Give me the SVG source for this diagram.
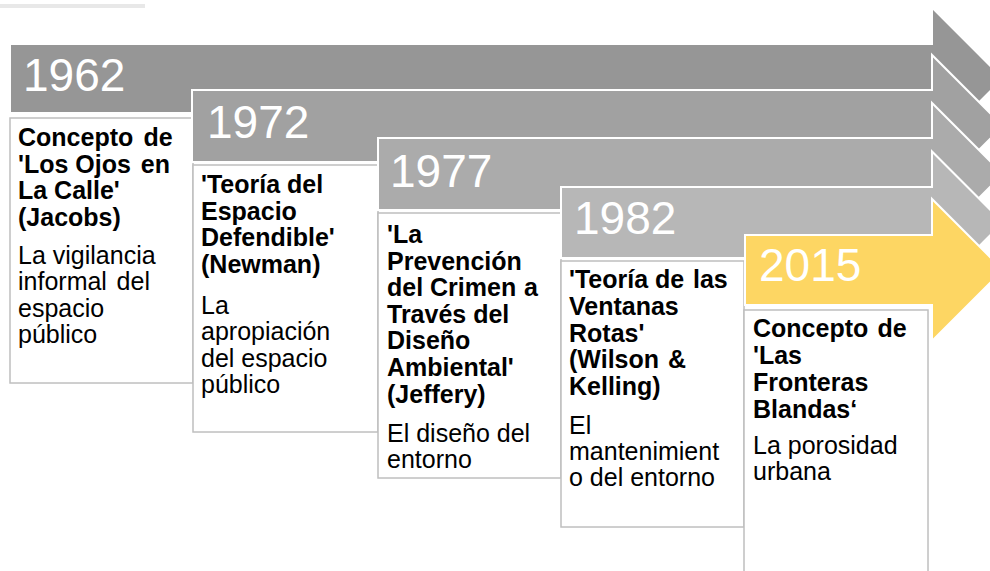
<svg xmlns="http://www.w3.org/2000/svg" width="990" height="571" viewBox="0 0 990 571">
<style>
.arrow{stroke:#ffffff;stroke-width:2;stroke-linejoin:miter}
.year{font-family:"Liberation Sans",Arial,sans-serif;font-size:46px;fill:#ffffff}
.box{fill:#ffffff;stroke:#bfbfbf;stroke-width:1.5}
.t{font-family:"Liberation Sans",Arial,sans-serif;font-size:25px;fill:#000000;font-weight:bold}
.d{font-family:"Liberation Sans",Arial,sans-serif;font-size:25px;fill:#000000}
</style>
<rect x="0" y="0" width="990" height="571" fill="#ffffff"/>
<rect x="0" y="4" width="145" height="4" fill="#e8e8e8"/>
<g id="connectors"/>
<g id="n1962">
<polygon class="arrow" fill="#969696" points="10,44 932,44 932,7.5 1003,78.5 932,149.5 932,113 10,113"/>
<text class="year" x="23" y="91">1962</text>
<rect class="box" x="10" y="118" width="183" height="265"/>
<text class="t" x="18" y="146">Concepto <tspan x="143.5">de</tspan></text>
<text class="t" x="18" y="172.7">'Los Ojos <tspan x="140.8">en</tspan></text>
<text class="t" x="18" y="199.4">La Calle'</text>
<text class="t" x="18" y="226">(Jacobs)</text>
<text class="d" x="18" y="264">La vigilancia</text>
<text class="d" x="18" y="290.3">informal <tspan x="116.6">del</tspan></text>
<text class="d" x="18" y="316.6">espacio</text>
<text class="d" x="18" y="342.9">público</text>
</g>
<g id="n1972">
<polygon class="arrow" fill="#a1a1a1" points="192,90 932,90 932,55 1003,126 932,197 932,162 192,162"/>
<text class="year" x="207" y="138">1972</text>
<rect class="box" x="193" y="165" width="185" height="267"/>
<text class="t" x="201" y="193">'Teoría del</text>
<text class="t" x="201" y="219.7">Espacio</text>
<text class="t" x="201" y="246.4">Defendible'</text>
<text class="t" x="201" y="273">(Newman)</text>
<text class="d" x="201" y="314">La</text>
<text class="d" x="201" y="340.3">apropiación</text>
<text class="d" x="201" y="366.6">del espacio</text>
<text class="d" x="201" y="392.9">público</text>
</g>
<g id="n1977">
<polygon class="arrow" fill="#ababab" points="378,138 932,138 932,103 1003,174 932,245 932,210 378,210"/>
<text class="year" x="390" y="187">1977</text>
<rect class="box" x="378" y="213" width="183" height="265"/>
<text class="t" x="387" y="243">'La</text>
<text class="t" x="387" y="269.6">Prevención</text>
<text class="t" x="387" y="296.2">del Crimen <tspan x="524">a</tspan></text>
<text class="t" x="387" y="322.8">Través del</text>
<text class="t" x="387" y="349.4">Diseño</text>
<text class="t" x="387" y="376">Ambiental'</text>
<text class="t" x="387" y="402.6">(Jeffery)</text>
<text class="d" x="387" y="441.7">El diseño del</text>
<text class="d" x="387" y="468">entorno</text>
</g>
<g id="n1982">
<polygon class="arrow" fill="#b7b7b7" points="561,187 932,187 932,151.5 1003,222.5 932,293.5 932,258 561,258"/>
<text class="year" x="574" y="234">1982</text>
<rect class="box" x="561" y="261" width="183" height="266"/>
<text class="t" x="569" y="288.3">'Teoría de <tspan x="693">las</tspan></text>
<text class="t" x="569" y="314.9">Ventanas</text>
<text class="t" x="569" y="341.5">Rotas'</text>
<text class="t" x="569" y="368.1">(Wilson <tspan x="668">&amp;</tspan></text>
<text class="t" x="569" y="394.7">Kelling)</text>
<text class="d" x="569" y="433.5">El</text>
<text class="d" x="569" y="459.8">mantenimient</text>
<text class="d" x="569" y="486.1">o del entorno</text>
</g>
<g id="n2015">
<polygon class="arrow" fill="#fdd663" points="745,235 932,235 932,199 1003,270 932,341 932,305 745,305"/>
<text class="year" x="759" y="281">2015</text>
<rect class="box" x="744" y="310" width="184" height="275"/>
<text class="t" x="753" y="337">Concepto <tspan x="877.5">de</tspan></text>
<text class="t" x="753" y="364">'Las</text>
<text class="t" x="753" y="391">Fronteras</text>
<text class="t" x="753" y="418">Blandas‘</text>
<text class="d" x="753" y="453.5">La porosidad</text>
<text class="d" x="753" y="480">urbana</text>
</g>
</svg>
